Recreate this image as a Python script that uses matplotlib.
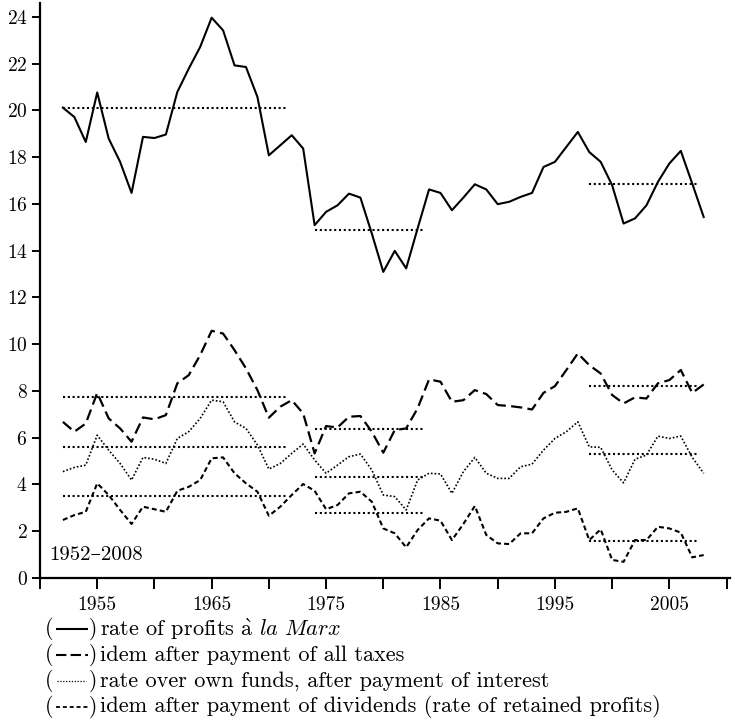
import matplotlib
matplotlib.use("Agg")
from matplotlib import pyplot as plt
from matplotlib.lines import Line2D
import numpy as np

plt.rcParams['font.family'] = ['cmr10', 'DejaVu Serif']
plt.rcParams['mathtext.fontset'] = 'cm'
plt.rcParams['axes.unicode_minus'] = False
plt.rcParams['axes.formatter.use_mathtext'] = True

years = np.arange(1952, 2009)

# rate of profits a la Marx
profit_rate = [20.12, 19.72, 18.65, 20.77, 18.80, 17.80, 16.47, 18.87, 18.82, 18.97,
               20.79, 21.79, 22.72, 23.97, 23.43, 21.93, 21.86, 20.58, 18.08, 18.51,
               18.94, 18.37, 15.09, 15.66, 15.94, 16.44, 16.27, 14.73, 13.09, 13.99,
               13.24, 14.95, 16.62, 16.47, 15.73, 16.27, 16.84, 16.62, 15.99, 16.09,
               16.30, 16.47, 17.58, 17.80, 18.44, 19.08, 18.22, 17.80, 16.80, 15.16,
               15.38, 15.94, 16.94, 17.73, 18.27, 16.87, 15.44]

# after all taxes
after_taxes = [6.67, 6.25, 6.60, 7.91, 6.82, 6.39, 5.82, 6.86, 6.78, 6.96,
               8.32, 8.67, 9.53, 10.57, 10.45, 9.74, 8.96, 8.03, 6.85, 7.32,
               7.60, 7.03, 5.32, 6.49, 6.43, 6.89, 6.92, 6.25, 5.35, 6.32,
               6.39, 7.25, 8.49, 8.39, 7.53, 7.60, 8.03, 7.86, 7.39, 7.35,
               7.29, 7.20, 7.91, 8.20, 8.89, 9.60, 9.10, 8.74, 7.82, 7.46,
               7.72, 7.67, 8.32, 8.46, 8.89, 7.91, 8.27]

# own funds, after interest
own_funds = [4.54, 4.72, 4.82, 6.10, 5.46, 4.89, 4.18, 5.15, 5.07, 4.89,
             5.96, 6.25, 6.82, 7.60, 7.53, 6.67, 6.39, 5.68, 4.65, 4.89,
             5.32, 5.72, 5.04, 4.47, 4.82, 5.18, 5.29, 4.61, 3.54, 3.47,
             2.90, 4.18, 4.47, 4.44, 3.61, 4.54, 5.15, 4.47, 4.25, 4.25,
             4.75, 4.86, 5.46, 5.96, 6.25, 6.67, 5.60, 5.58, 4.61, 4.06,
             5.07, 5.25, 6.06, 5.96, 6.06, 5.15, 4.47]

# after dividends (retained profits)
retained = [2.47, 2.68, 2.82, 4.04, 3.54, 2.90, 2.30, 3.04, 2.93, 2.82,
            3.72, 3.89, 4.18, 5.11, 5.15, 4.47, 4.04, 3.68, 2.65, 3.04,
            3.54, 4.01, 3.72, 2.93, 3.11, 3.61, 3.68, 3.25, 2.11, 1.90,
            1.30, 2.04, 2.54, 2.44, 1.61, 2.30, 3.07, 1.83, 1.47, 1.44,
            1.90, 1.90, 2.54, 2.78, 2.82, 2.97, 1.61, 2.07, 0.76, 0.68,
            1.61, 1.61, 2.18, 2.11, 1.93, 0.87, 0.97]

# period averages: (start, end)
periods = [(1952, 1971.5), (1974, 1983.6), (1998, 2007.6)]
avg_profit = [20.12, 14.87, 16.87]
avg_taxes = [7.74, 6.35, 8.20]
avg_own = [5.60, 4.29, 5.29]
avg_retained = [3.50, 2.78, 1.57]

W, H = 740, 725
fig = plt.figure(figsize=(W / 100, H / 100), dpi=100)
ax = fig.add_axes([40 / W, 1 - 577.7 / H, 690 / W, 574.7 / H])

ax.plot(years, profit_rate, color='black', lw=1.5)
ax.plot(years, after_taxes, color='black', lw=1.6, linestyle=(0, (5, 2.4)))
ax.plot(years, own_funds, color='black', lw=1.2, linestyle=(0, (1, 1.2)))
ax.plot(years, retained, color='black', lw=1.5, linestyle=(0, (2.4, 1.5)))

for avg in (avg_profit, avg_taxes, avg_own, avg_retained):
    for (x0, x1), v in zip(periods, avg):
        ax.plot([x0, x1], [v, v], color='black', lw=1.5, linestyle=(0, (1, 1.3)))

ax.set_xlim(1950, 2010.3)
ax.set_ylim(0, 24.6)
ax.set_yticks(range(0, 25, 2))
ax.set_xticks(range(1950, 2011, 5))
ax.set_xticklabels(['' if y % 10 == 0 else str(y) for y in range(1950, 2011, 5)])
ax.spines['top'].set_visible(False)
ax.spines['right'].set_visible(False)
for s in ('left', 'bottom'):
    ax.spines[s].set_linewidth(1.6)
ax.tick_params(axis='both', direction='out', length=6, width=1.4,
               labelsize=14, pad=3)
ax.tick_params(axis='x', length=8, pad=5)

ax.text(1950.8, 0.95, '1952–2008', fontsize=15, ha='left', va='center')

# legend below the axes
legend_rows = [
    (r'rate of profits $\mathrm{\grave{a}}$ $\mathit{la\ Marx}$', 1.5, (0, ()), 56, 88),
    ('idem after payment of all taxes', 1.5, (0, (5, 2.0)), 56, 88),
    ('rate over own funds, after payment of interest', 0.9, (0, (1, 1.3)), 57, 86),
    ('idem after payment of dividends (rate of retained profits)', 1.3, (0, (2.2, 1.6)), 56, 88),
]
row_y = [629, 655, 681, 707]
for (label, lw, ls, xa, xb), py in zip(legend_rows, row_y):
    fy = 1 - py / H
    fig.text(45 / W, fy, '(', fontsize=15.5, ha='left', va='center')
    fig.add_artist(Line2D([xa / W, xb / W], [fy, fy], color='black', lw=lw,
                          linestyle=ls, transform=fig.transFigure))
    fig.text(89 / W, fy, ')', fontsize=15.5, ha='left', va='center')
    fig.text(100 / W, fy, label, fontsize=16, ha='left', va='center')

fig.savefig('out.png', dpi=100)
